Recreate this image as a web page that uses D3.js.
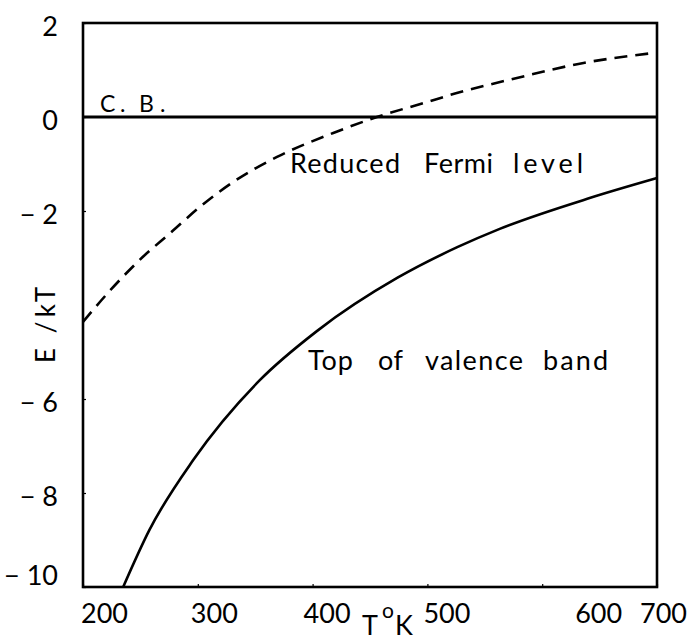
<!DOCTYPE html>
<html>
<head>
<meta charset="utf-8">
<script src="https://cdn.jsdelivr.net/npm/d3@7"></script>
<style>
  html, body { margin: 0; padding: 0; background: #fff; }
  svg { display: block; }
  svg text { font-family: Lato, "Open Sans", sans-serif; }
</style>
</head>
<body>
<svg id="chart" width="692" height="641"></svg>
<script>
// ---- data ----
const xTicks = [200, 300, 400, 500, 600, 700];
const yTicks = [2, 0, -2, -6, -8, -10];
const yTickLabels = ["2", "0", "\u2212 2", "\u2212 6", "\u2212 8", "\u2212 10"];

// Top of valence band (solid)
const valenceT = [235, 258, 296, 354, 404, 474, 526, 563, 642, 700];
const valenceE = [-10.0, -8.78, -7.30, -5.60, -4.55, -3.42, -2.77, -2.38, -1.72, -1.30];

// Reduced Fermi level (dashed)
const fermiT = [200, 224, 252, 276, 302, 331, 369, 418, 456, 500, 520, 578, 636, 700];
const fermiE = [-4.36, -3.68, -2.98, -2.47, -1.91, -1.38, -0.85, -0.34, 0.0, 0.32, 0.47, 0.83, 1.15, 1.37];

// Conduction band edge
const cbT = [200, 700];
const cbE = [0, 0];

const FONT = "Lato, 'Open Sans', sans-serif";

// ---- layout ----
const svg = d3.select("#chart");
const margin = { left: 83, top: 23, right: 35, bottom: 54 };
const W = 692 - margin.left - margin.right;   // 574
const H = 641 - margin.top - margin.bottom;   // 564

const x = d3.scaleLinear().domain([200, 700]).range([0, W]);
const y = d3.scaleLinear().domain([-10, 2]).range([H, 0]);

const g = svg.append("g").attr("transform", `translate(${margin.left},${margin.top})`);

// axes (tiny inner ticks, labels nudged as in the original print)
const xLabelShift = { 200: 21, 300: 16, 400: 14, 500: 19, 600: 56, 700: 6 };
const xAxis = g.append("g")
  .attr("transform", `translate(0,${H})`)
  .call(d3.axisBottom(x).tickValues(xTicks).tickSizeInner(-3).tickSizeOuter(0).tickFormat(d3.format("d")));
xAxis.attr("font-family", FONT);
xAxis.select(".domain").remove();
xAxis.selectAll("line").attr("stroke", "#000").attr("stroke-width", 1.2);
xAxis.selectAll("text")
  .attr("font-size", 27)
  .attr("font-family", FONT)
  .attr("fill", "#000")
  .attr("dx", d => xLabelShift[d])
  .attr("y", 36)
  .attr("dy", 0);

const yAxis = g.append("g")
  .call(d3.axisLeft(y).tickValues(yTicks).tickSizeInner(-3).tickSizeOuter(0).tickPadding(25)
    .tickFormat((d, i) => yTickLabels[i]));
yAxis.attr("font-family", FONT);
yAxis.select(".domain").remove();
yAxis.selectAll("line").attr("stroke", "#000").attr("stroke-width", 1.2);
yAxis.selectAll("text")
  .attr("font-size", 27)
  .attr("font-family", FONT)
  .attr("fill", "#000")
  .attr("dy", d => d === -10 ? "-0.1em" : "0.45em");

// frame
g.append("rect")
  .attr("x", 0).attr("y", 0).attr("width", W).attr("height", H)
  .attr("fill", "none").attr("stroke", "#000").attr("stroke-width", 2.6);

// lines
const line = d3.line().x(d => x(d[0])).y(d => y(d[1])).curve(d3.curveMonotoneX);

g.append("path")
  .datum(cbT.map((t, i) => [t, cbE[i]]))
  .attr("d", line)
  .attr("fill", "none").attr("stroke", "#000").attr("stroke-width", 2.8);

g.append("path")
  .datum(valenceT.map((t, i) => [t, valenceE[i]]))
  .attr("d", line)
  .attr("fill", "none").attr("stroke", "#000").attr("stroke-width", 2.6);

g.append("path")
  .datum(fermiT.map((t, i) => [t, fermiE[i]]))
  .attr("d", line)
  .attr("fill", "none").attr("stroke", "#000").attr("stroke-width", 2.6)
  .attr("stroke-dasharray", "13,8");

// annotations: each word placed like the print
function words(parent, list, baseline, size) {
  const t = parent.append("text")
    .attr("y", baseline)
    .attr("font-size", size)
    .attr("font-family", FONT)
    .attr("fill", "#000");
  list.forEach(w => {
    t.append("tspan").attr("x", w[1]).attr("textLength", w[2]).attr("lengthAdjust", "spacing").text(w[0]);
  });
  return t;
}

words(svg, [["C", 100, 15], [".", 120, 4], ["B", 139, 14], [".", 160, 4]], 112, 23);
words(svg, [["Reduced", 290, 110], ["Fermi", 424, 69], ["level", 513, 70]], 173, 27);
words(svg, [["Top", 308, 45], ["of", 378, 25], ["valence", 425, 98], ["band", 543, 65]], 370, 27);

// y axis title
svg.append("text")
  .attr("transform", "translate(55,325) rotate(-90)")
  .attr("text-anchor", "middle")
  .attr("font-size", 26).attr("fill", "#000")
  .attr("font-family", FONT)
  .attr("textLength", 76).attr("lengthAdjust", "spacing")
  .text("E /kT");

// x axis title  T°K
const xt = svg.append("text")
  .attr("x", 362).attr("y", 635)
  .attr("font-size", 27).attr("fill", "#000")
  .attr("font-family", FONT);
xt.append("tspan").text("T");
xt.append("tspan").attr("font-size", 21).attr("dx", 4).attr("dy", -17).text("o");
xt.append("tspan").attr("dx", 1).attr("dy", 17).text("K");
</script>
</body>
</html>
